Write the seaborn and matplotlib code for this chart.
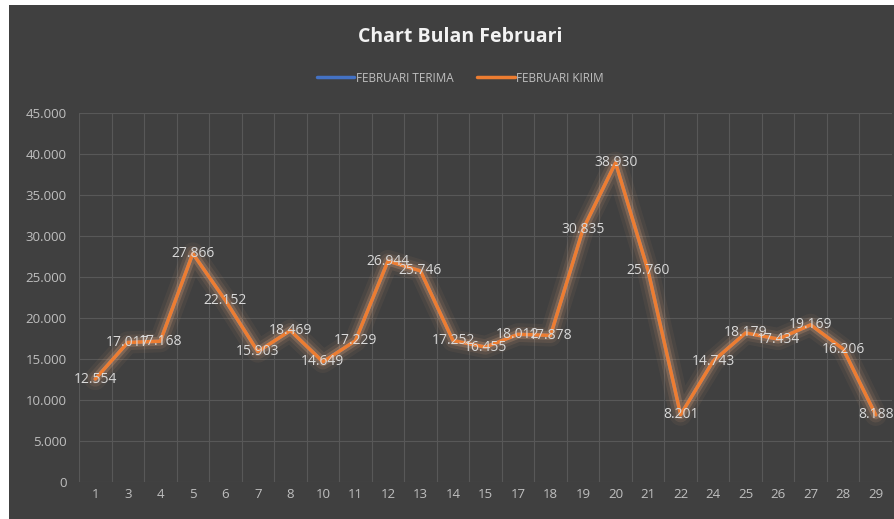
import matplotlib
matplotlib.use("Agg")
import matplotlib.pyplot as plt
import matplotlib.patheffects as pe
from matplotlib.ticker import FixedLocator, FuncFormatter
from matplotlib.lines import Line2D
from matplotlib.patches import Rectangle
import seaborn as sns
import pandas as pd

days = ["1", "3", "4", "5", "6", "7", "8", "10", "11", "12", "13", "14", "15",
        "17", "18", "19", "20", "21", "22", "24", "25", "26", "27", "28", "29"]
kirim = [12554, 17017, 17168, 27866, 22152, 15903, 18469, 14649, 17229, 26944,
         25746, 17252, 16455, 18012, 17878, 30835, 38930, 25760, 8201, 14743,
         18179, 17434, 19169, 16206, 8188]
terima = list(kirim)

sns.set_theme(style="dark")
plt.rcParams['font.family'] = ['Open Sans', 'DejaVu Sans']

bg = "#404040"
W, H = 894, 519
fig = plt.figure(figsize=(W / 100, H / 100), dpi=100, facecolor=bg)

# white frame strips (top and left) as in the reference screenshot
fig.patches.append(Rectangle((0, 1 - 5 / H), 1, 5 / H, transform=fig.transFigure,
                             facecolor="white", edgecolor="none", zorder=0))
fig.patches.append(Rectangle((0, 0), 9 / W, 1, transform=fig.transFigure,
                             facecolor="white", edgecolor="none", zorder=0))

ax = fig.add_axes([79 / W, 1 - 482 / H, (892 - 79) / W, 369 / H])
ax.set_facecolor(bg)

pos = list(range(len(days)))
df = pd.DataFrame({"pos": pos + pos,
                   "val": terima + kirim,
                   "series": ["FEBRUARI TERIMA"] * len(days) + ["FEBRUARI KIRIM"] * len(days)})

sns.lineplot(data=df, x="pos", y="val", hue="series",
             palette={"FEBRUARI TERIMA": "#4472C4", "FEBRUARI KIRIM": "#ED7D31"},
             linewidth=2.5, ax=ax, legend=False, sort=False)

glow = [pe.Stroke(linewidth=16, foreground="#F4B183", alpha=0.06),
        pe.Stroke(linewidth=11, foreground="#F4B183", alpha=0.10),
        pe.Stroke(linewidth=6.5, foreground="#F4B183", alpha=0.22),
        pe.Normal()]
ax.lines[1].set_path_effects(glow)

for x, v in zip(pos, kirim):
    ax.text(x, v, f"{v/1000:.3f}", ha="center", va="center", color="#d9d9d9",
            fontsize=10, zorder=5)

ax.set_xlim(-0.5, len(days) - 0.5)
ax.set_ylim(0, 45000)
ax.set_xticks(pos)
ax.set_xticklabels(days)
ax.xaxis.set_minor_locator(FixedLocator([p + 0.5 for p in range(-1, len(days))]))
ax.set_yticks(range(0, 45001, 5000))
ax.yaxis.set_major_formatter(FuncFormatter(lambda v, p: "0" if v == 0 else f"{int(v):,}".replace(",", ".")))
ax.grid(False)
ax.grid(True, axis="y", which="major", color="#585858", linewidth=0.8)
ax.grid(True, axis="x", which="minor", color="#585858", linewidth=0.8)
ax.tick_params(axis="both", which="both", length=0, colors="#bfbfbf", labelsize=9.5)
ax.tick_params(axis="x", pad=4)
ax.tick_params(axis="y", pad=9)
ax.set_xlabel("")
ax.set_ylabel("")
for s in ax.spines.values():
    s.set_visible(False)

fig.text(460 / W, 1 - 37 / H, "Chart Bulan Februari", ha="center", va="center",
         color="#f2f2f2", fontsize=14, fontweight="bold")

handles = [Line2D([], [], color="#4472C4", linewidth=2.5),
           Line2D([], [], color="#ED7D31", linewidth=2.5)]
leg = fig.legend(handles, ["FEBRUARI TERIMA", "FEBRUARI KIRIM"], loc="center",
                 bbox_to_anchor=(460 / W, 1 - 78 / H), ncol=2, frameon=False,
                 fontsize=8.5, labelcolor="#bfbfbf", handlelength=3.2,
                 handletextpad=0.1, columnspacing=2.0)

fig.savefig("out.png", dpi=100, facecolor=bg)
